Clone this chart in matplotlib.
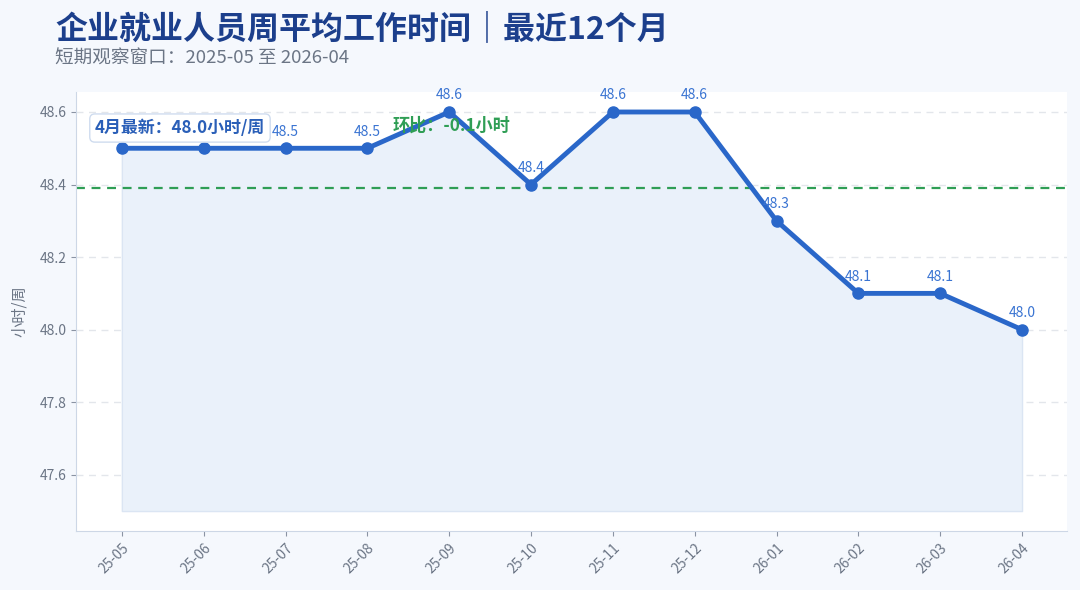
import numpy as np
import matplotlib
matplotlib.use('Agg')
import matplotlib.pyplot as plt

plt.rcParams['font.family'] = ['Noto Sans CJK SC', 'DejaVu Sans']

# data
months = ['25-05', '25-06', '25-07', '25-08', '25-09', '25-10',
          '25-11', '25-12', '26-01', '26-02', '26-03', '26-04']
hours = [48.5, 48.5, 48.5, 48.5, 48.6, 48.4, 48.6, 48.6, 48.3, 48.1, 48.1, 48.0]
y_ticks = [47.6, 47.8, 48.0, 48.2, 48.4, 48.6]
fill_base = 47.5

title = '企业就业人员周平均工作时间｜最近12个月'
subtitle = '短期观察窗口：2025-05 至 2026-04'
latest_text = '4月最新：48.0小时/周'
mom_text = '环比：-0.1小时'

blue = '#2a67c9'
green = '#2f9e55'
gray = '#6b7585'

fig = plt.figure(figsize=(10.8, 5.9), dpi=100)
fig.patch.set_facecolor('#f5f8fd')
ax = fig.add_axes([0.0704, 0.1, 0.9176, 0.744])
ax.set_facecolor('white')

x = np.arange(len(months))
y = np.array(hours)

ax.fill_between(x, y, fill_base, color='#eaf1fa', edgecolor='#dbe5f3', linewidth=1, zorder=1)
ax.plot(x, y, color=blue, lw=3.5, marker='o', ms=8, zorder=3, solid_capstyle='round')

mean_val = y.mean()
ax.axhline(mean_val, color=green, ls=(0, (4, 3)), lw=1.6, zorder=2)

# first two labels sit under the "latest" box, so they don't show
for xi, yi in zip(x[2:], y[2:]):
    ax.annotate(f'{yi:.1f}', (xi, yi), xytext=(0, 7), textcoords='offset points',
                ha='center', va='bottom', fontsize=10, color='#3a74d2', zorder=4)

ax.text(0.019, 0.918, latest_text, transform=ax.transAxes, fontsize=12.2, fontweight='bold',
        color='#2a5fb8', va='center', ha='left', zorder=6,
        bbox=dict(boxstyle='round,pad=0.3', fc='white', ec='#cfdcef', lw=1))
ax.text(0.379, 0.923, mom_text, transform=ax.transAxes, fontsize=12.3, fontweight='bold',
        color=green, va='center', ha='center', zorder=5)

ax.set_xlim(-0.56, 11.55)
ax.set_ylim(47.445, 48.655)
ax.set_yticks(y_ticks)
ax.set_yticklabels([f'{t:.1f}' for t in y_ticks])
ax.set_xticks(x)
ax.set_xticklabels(months, rotation=45, ha='right', rotation_mode='anchor')

ax.grid(axis='y', color='#e3e6eb', ls=(0, (5, 4)), lw=1)
ax.set_axisbelow(True)
for s in ['top', 'right']:
    ax.spines[s].set_visible(False)
for s in ['left', 'bottom']:
    ax.spines[s].set_color('#cdd7e6')
ax.tick_params(axis='both', colors='#8a93a3', labelcolor=gray, labelsize=10)
ax.tick_params(axis='x', labelsize=10)
ax.set_ylabel('小时/周', color=gray, fontsize=11, labelpad=8)

fig.text(0.051, 0.951, title, fontsize=23, fontweight='bold', color='#1c3f8c', va='center', ha='left')
fig.text(0.051, 0.9, subtitle, fontsize=13.4, color=gray, va='center', ha='left')

fig.savefig('out.png', dpi=100, facecolor=fig.get_facecolor())
